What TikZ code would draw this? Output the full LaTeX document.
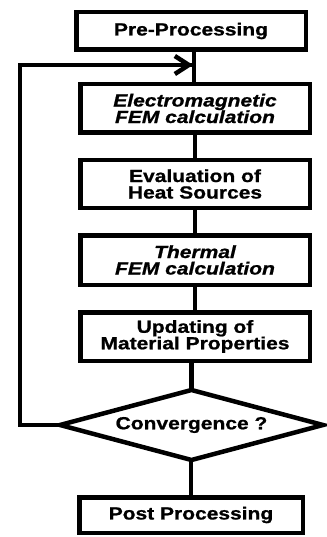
\documentclass[tikz,border=0pt]{standalone}
\usepackage{fontspec}
\setmainfont{Liberation Sans}[FakeStretch=1.2,BoldFeatures={FakeBold=1},BoldItalicFeatures={FakeBold=1}]
\usetikzlibrary{shapes.geometric,arrows.meta}
\begin{document}
\begin{tikzpicture}[x=1pt,y=-1pt,
  every node/.style={font=\fontsize{17.5}{16.5}\selectfont\bfseries, align=center, inner sep=0pt},
  stepbox/.style={draw, line width=4.5pt, minimum width=229.5pt, minimum height=#1},
  conn/.style={line width=4.5pt}]
\useasboundingbox (0,0) rectangle (326,537);
\node[stepbox=37.5pt] (pre) at (191,31) {Pre-Processing};
\node[stepbox=48.5pt] (em) at (195,108.5) {\itshape Electromagnetic\\\itshape FEM calculation};
\node[stepbox=47.5pt] (ev) at (195,184) {Evaluation of\\Heat Sources};
\node[stepbox=49.5pt] (th) at (195,260) {\itshape Thermal\\\itshape FEM calculation};
\node[stepbox=48.5pt] (up) at (195,336.5) {Updating of\\Material Properties};
\coordinate (cw) at (60,425);
\coordinate (ctop) at (191.5,390);
\coordinate (ce) at (323,425);
\coordinate (cbot) at (191.5,460);
\draw[conn, line join=miter] (cw) -- (ctop) -- (ce) -- (cbot) -- cycle;
\node (conv) at (191.5,425) {Convergence ?};
\node[draw, line width=4.5pt, minimum width=223.5pt, minimum height=35.5pt] (post) at (191,515) {Post Processing};
\coordinate (j) at (194,65);
\coordinate (ll) at (20,425);
\coordinate (lu) at (20,65);
\draw[conn] (em.north -| j) -- (pre.south -| j);
\draw[conn] (em.south) -- (ev.north);
\draw[conn] (ev.south) -- (th.north);
\draw[conn] (th.south) -- (up.north);
\draw[conn] (up.south -| ctop) -- (ctop);
\draw[conn] (cbot -| post.north) -- (post.north);
\draw[conn, line join=miter] (cw) -- (ll) -- (lu) -- ([xshift=-2pt]j);
\draw[conn, -{Straight Barb[length=14pt,width=18pt,line width=4.5pt]}] ([xshift=-30pt]j) -- ([xshift=-1pt]j);
\end{tikzpicture}
\end{document}
